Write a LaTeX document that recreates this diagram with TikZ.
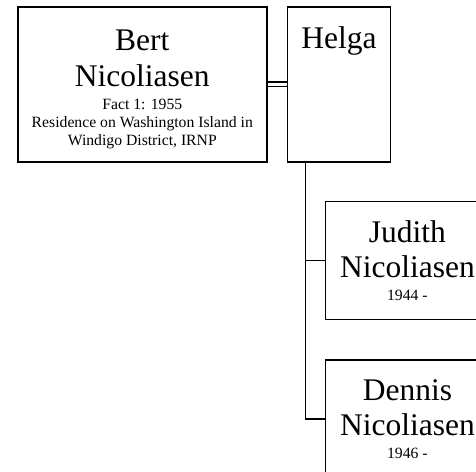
\documentclass[tikz,border=0pt]{standalone}
\usepackage{fontspec}
\setmainfont{Liberation Serif}
\usetikzlibrary{positioning}

\newcommand{\namefont}{\fontsize{31.5}{35.5}\selectfont}
\newcommand{\factfont}{\fontsize{15.7}{18}\selectfont}

\tikzset{
    person/.style={
        rectangle,
        draw=black,
        line width=1.6pt,
        fill=white,
        align=center,
        inner sep=0pt,
        font=\namefont
    },
    parent/.style={
        person,
        minimum height=155pt
    },
    child/.style={
        person,
        minimum width=164pt,
        minimum height=118pt
    },
    marriage/.style={
        draw=black,
        line width=1.4pt,
        double,
        double distance=3.2pt
    },
    descent/.style={
        draw=black,
        line width=1.5pt
    }
}

\begin{document}
\begin{tikzpicture}[x=1pt, y=-1pt]
\useasboundingbox (0,0) rectangle (476,471);

% Couple
\node[parent, minimum width=249pt, anchor=north west] (bert) at (17,6)
    {\rule{0pt}{31pt}Bert\\Nicoliasen\\[-12pt]\factfont Fact 1: 1955\\[-17.5pt]\factfont Residence on Washington Island in\\[-17.5pt]\factfont Windigo District, IRNP};
\node[parent, minimum width=103pt, right=19pt of bert] (helga) {};
\node[anchor=base, font=\namefont] (helganame) at ([yshift=-42pt]helga.north) {Helga};

% Children
\node[child, below right=38pt and 38pt of helga.south west] (judith)
    {Judith\\Nicoliasen\\[-13pt]\factfont 1944 -};
\node[child, below=39pt of judith] (dennis)
    {Dennis\\Nicoliasen\\[-13pt]\factfont 1946 -};

% Lines
\draw[marriage] (bert) -- (helga);
\coordinate (drop) at ([xshift=19pt]helga.south west);
\draw[descent] (drop) |- (dennis.west);
\draw[descent] (drop |- judith.west) -- (judith.west);

\end{tikzpicture}
\end{document}
